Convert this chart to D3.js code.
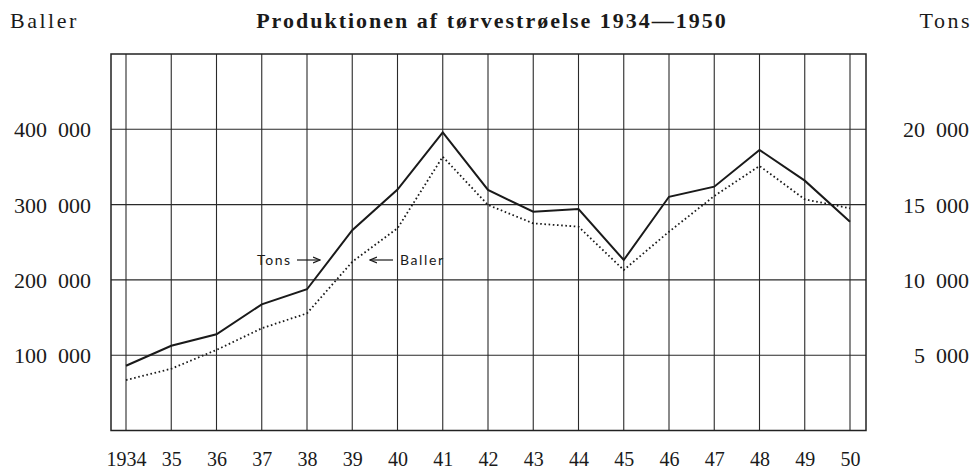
<!DOCTYPE html>
<html>
<head>
<meta charset="utf-8">
<script src="https://cdn.jsdelivr.net/npm/d3@7"></script>
<style>
  html, body { margin: 0; padding: 0; background: #fff; }
  svg text { font-family: "Liberation Serif", "Times New Roman", serif; fill: #1a1a1a; }
  .grid line { stroke: #2a2a2a; stroke-width: 1.1; }
  .note { font-family: Lato, "DejaVu Sans", sans-serif !important; font-size: 14px; letter-spacing: 1.6px; }
</style>
</head>
<body>
<svg id="chart" width="974" height="470"></svg>
<script>
var years = [1934, 1935, 1936, 1937, 1938, 1939, 1940, 1941, 1942, 1943, 1944, 1945, 1946, 1947, 1948, 1949, 1950];
var yearLabels = ['1934', '35', '36', '37', '38', '39', '40', '41', '42', '43', '44', '45', '46', '47', '48', '49', '50'];

// production, tons (solid line, right scale)
var tons = [4300, 5630, 6390, 8380, 9380, 13300, 16000, 19800, 15970, 14530, 14710, 11320, 15520, 16190, 18630, 16590, 13860];
// production, bales (dotted line, left scale)
var baller = [67000, 82000, 107000, 135700, 155600, 224000, 268500, 363600, 299500, 275100, 270700, 213100, 264000, 311400, 351300, 307000, 295100];

var ballerTicks = [100000, 200000, 300000, 400000];
var tonsTicks = [5000, 10000, 15000, 20000];

var svg = d3.select('#chart');
var frame = { left: 111, right: 866, top: 54, bottom: 430.5 };

var x = d3.scaleLinear().domain([1934, 1950]).range([126, 850]);
var yB = d3.scaleLinear().domain([0, 500000]).range([frame.bottom, frame.top]);
var yT = d3.scaleLinear().domain([0, 25000]).range([frame.bottom, frame.top]);

// "400 000" style numbers
function spaced(d) {
  return d3.format(',')(d).replace(/,/g, '\u2002');
}

// grid
var grid = svg.append('g').attr('class', 'grid');
grid.selectAll('line.v').data(years).enter().append('line')
  .attr('class', 'v')
  .attr('x1', function(d) { return x(d); })
  .attr('x2', function(d) { return x(d); })
  .attr('y1', frame.top)
  .attr('y2', frame.bottom);
grid.selectAll('line.h').data(ballerTicks).enter().append('line')
  .attr('class', 'h')
  .attr('x1', frame.left)
  .attr('x2', frame.right)
  .attr('y1', function(d) { return yB(d); })
  .attr('y2', function(d) { return yB(d); });
svg.append('rect')
  .attr('x', frame.left).attr('y', frame.top)
  .attr('width', frame.right - frame.left)
  .attr('height', frame.bottom - frame.top)
  .attr('fill', 'none')
  .attr('stroke', '#222')
  .attr('stroke-width', 1.5);

// axes (labels only)
var leftAxis = d3.axisLeft(yB).tickValues(ballerTicks).tickSize(0).tickPadding(0).tickFormat(spaced);
svg.append('g').attr('transform', 'translate(91,0)').call(leftAxis)
  .call(function(g) { g.select('.domain').remove(); })
  .selectAll('text').attr('font-size', 22).attr('font-family', null).attr('dy', '0.34em');

var rightAxis = d3.axisLeft(yT).tickValues(tonsTicks).tickSize(0).tickPadding(0).tickFormat(spaced);
svg.append('g').attr('transform', 'translate(969,0)').call(rightAxis)
  .call(function(g) { g.select('.domain').remove(); })
  .selectAll('text').attr('font-size', 22).attr('font-family', null).attr('dy', '0.34em');

var bottomAxis = d3.axisBottom(x).tickValues(years).tickSize(0).tickPadding(0)
  .tickFormat(function(d, i) { return yearLabels[i]; });
svg.append('g').attr('transform', 'translate(0,466)').call(bottomAxis)
  .call(function(g) { g.select('.domain').remove(); })
  .selectAll('text').attr('font-size', 20).attr('font-family', null).attr('y', 0).attr('dy', 0);

// series
var lineB = d3.line().x(function(d, i) { return x(years[i]); }).y(function(d) { return yB(d); });
var lineT = d3.line().x(function(d, i) { return x(years[i]); }).y(function(d) { return yT(d); });

svg.append('path').datum(baller)
  .attr('d', lineB)
  .attr('fill', 'none')
  .attr('stroke', '#1a1a1a')
  .attr('stroke-width', 1.8)
  .attr('stroke-dasharray', '1.6,2.6');

svg.append('path').datum(tons)
  .attr('d', lineT)
  .attr('fill', 'none')
  .attr('stroke', '#1a1a1a')
  .attr('stroke-width', 2);

// titles
svg.append('text').attr('x', 492).attr('y', 28).attr('text-anchor', 'middle')
  .attr('font-size', 22).attr('font-weight', 'bold').attr('letter-spacing', 2)
  .text('Produktionen af tørvestrøelse 1934—1950');
svg.append('text').attr('x', 10).attr('y', 28).attr('font-size', 22).attr('letter-spacing', 2.5).text('Baller');
svg.append('text').attr('x', 972).attr('y', 28).attr('text-anchor', 'end').attr('font-size', 22).attr('letter-spacing', 2.5).text('Tons');

// line notes with arrows
svg.append('defs').append('marker')
  .attr('id', 'arrow')
  .attr('markerWidth', 8).attr('markerHeight', 8)
  .attr('refX', 7).attr('refY', 4)
  .attr('orient', 'auto')
  .attr('markerUnits', 'userSpaceOnUse')
  .append('path').attr('d', 'M0,1 L7,4 L0,7').attr('fill', 'none').attr('stroke', '#1a1a1a').attr('stroke-width', 1.2);

var noteY = 260;
svg.append('text').attr('class', 'note').attr('x', 257).attr('y', noteY + 5).text('Tons');
svg.append('line').attr('x1', 297).attr('x2', 320).attr('y1', noteY).attr('y2', noteY)
  .attr('stroke', '#1a1a1a').attr('stroke-width', 1.2).attr('marker-end', 'url(#arrow)');
svg.append('line').attr('x1', 393).attr('x2', 370).attr('y1', noteY).attr('y2', noteY)
  .attr('stroke', '#1a1a1a').attr('stroke-width', 1.2).attr('marker-end', 'url(#arrow)');
svg.append('text').attr('class', 'note').attr('x', 400).attr('y', noteY + 5).text('Baller');
</script>
</body>
</html>
